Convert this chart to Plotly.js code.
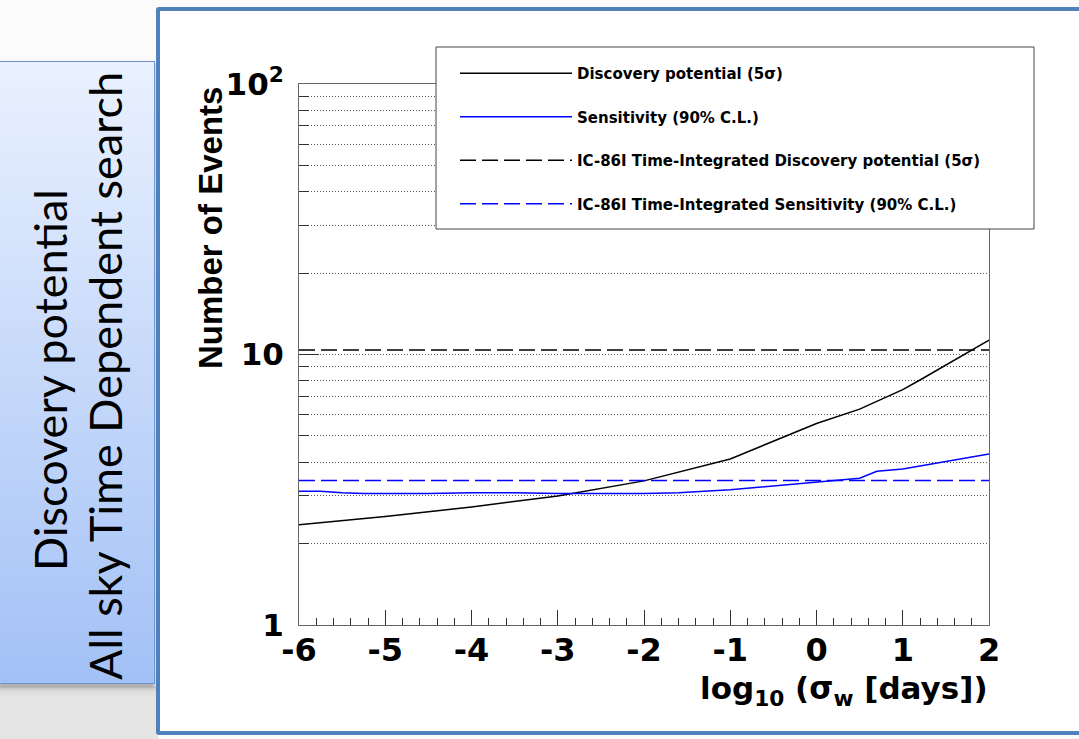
<!DOCTYPE html>
<html>
<head>
<meta charset="utf-8">
<script src="https://cdn.plot.ly/plotly-3.0.1.min.js"></script>
<style>
  html, body { margin:0; padding:0; width:1079px; height:739px; overflow:hidden; background:#fbfbfb; }
  #band { position:absolute; left:0; top:686px; width:158px; height:53px; background:linear-gradient(#d6d6d6, #e4e4e4 20%, #e4e4e4); }
  #box { position:absolute; left:-2px; top:61px; width:155px; height:621px; background:linear-gradient(#eaf1fe, #a3c1f6); border:1.5px solid #7196cf; box-shadow:0 3px 4px rgba(0,0,0,0.35); }
  #panel { position:absolute; left:156px; top:7px; width:1000px; height:720px; background:#ffffff; border:4.5px solid #4f81bd; border-radius:3px; }
  #chart { position:absolute; left:0; top:0; width:1079px; height:739px; }
</style>
</head>
<body>
<div id="band"></div>
<div id="box"></div>
<div id="panel"></div>
<div id="chart"></div>
<script>
// ---- data ----
const seriesNames = [
  "Discovery potential (5σ)",
  "Sensitivity (90% C.L.)",
  "IC-86I Time-Integrated Discovery potential (5σ)",
  "IC-86I Time-Integrated Sensitivity (90% C.L.)"
];
const discX = [-6, -5, -4, -3, -2, -1, 0, 0.5, 1, 1.2, 2];
const discY = [2.35, 2.52, 2.73, 3.0, 3.41, 4.11, 5.56, 6.28, 7.42, 8.05, 11.3];
const sensX = [-6, -5.75, -5.5, -5.25, -4.5, -4, -3.5, -3, -2, -1.6, -1, 0, 0.5, 0.7, 1, 2];
const sensY = [3.12, 3.12, 3.08, 3.06, 3.06, 3.08, 3.08, 3.06, 3.06, 3.08, 3.16, 3.38, 3.49, 3.70, 3.77, 4.29];
const tiRangeX = [-6, 2];
const tiDiscY = [10.38, 10.38];
const tiSensY = [3.42, 3.42];
const xTickVals = [-6, -5, -4, -3, -2, -1, 0, 1, 2];
const xTickText = ["-6", "-5", "-4", "-3", "-2", "-1", "0", "1", "2"];
const yTickVals = [1, 10, 100];
const yTickText = ["1", "10", "10<sup>2</sup>"];
const yMinorVals = [2,3,4,5,6,7,8,9,20,30,40,50,60,70,80,90];
const sideLines = ["Discovery potential", "All sky Time Dependent search"];
const yTitle = "Number of Events";
const xTitle = "log<sub>10</sub> (σ<sub>w</sub> [days])";

// ---- page geometry (pixels) ----
const W = 1079, H = 739;
const L = 299, R = 989, T = 84, B = 625;
const px = v => (v - L) / (R - L);   // page px -> paper x (plot-area relative)
const py = v => (B - v) / (B - T);   // page px -> paper y
const dashStyle = "16px,6px";

const traces = [
  {x: discX, y: discY, name: seriesNames[0], legendgroup: "a", mode: "lines", line: {color: "#000000", width: 1.5}},
  {x: sensX, y: sensY, name: seriesNames[1], legendgroup: "b", mode: "lines", line: {color: "#0000ff", width: 1.5}},
  {x: tiRangeX, y: tiDiscY, name: seriesNames[2], legendgroup: "c", mode: "lines", line: {color: "#000000", width: 1.5, dash: dashStyle}},
  {x: tiRangeX, y: tiSensY, name: seriesNames[3], legendgroup: "d", mode: "lines", line: {color: "#0000ff", width: 1.5, dash: dashStyle}}
];

const xTickFont = {family: "DejaVu Sans", size: 32, color: "#000", weight: "bold"};
const yTickFont = {family: "DejaVu Sans", size: 31, color: "#000", weight: "bold"};

const layout = {
  width: W, height: H,
  margin: {l: L, r: W - R, t: T, b: H - B, pad: 0, autoexpand: false},
  paper_bgcolor: "rgba(0,0,0,0)",
  plot_bgcolor: "#ffffff",
  showlegend: true,
  xaxis: {
    range: [-6, 2], tickmode: "array", tickvals: xTickVals, ticktext: xTickText,
    ticks: "inside", ticklen: 15, tickwidth: 1, tickcolor: "#333",
    showline: true, linecolor: "#666", linewidth: 1, mirror: true,
    showgrid: false, zeroline: false, ticklabelstandoff: -3,
    tickfont: xTickFont,
    minor: {dtick: 0.2, tick0: -6, ticks: "inside", ticklen: 7, tickwidth: 1, tickcolor: "#333", showgrid: false}
  },
  yaxis: {
    type: "log", range: [0, 2],
    tickmode: "array", tickvals: yTickVals, ticktext: yTickText,
    ticks: "inside", ticklen: 20, tickwidth: 1, tickcolor: "#333",
    showline: true, linecolor: "#666", linewidth: 1, mirror: true,
    showgrid: true, gridcolor: "#555", gridwidth: 1, griddash: "1px,2px",
    zeroline: false, ticklabelstandoff: 8,
    tickfont: yTickFont,
    minor: {tickmode: "array", tickvals: yMinorVals, ticks: "inside", ticklen: 10, tickwidth: 1, tickcolor: "#333",
            showgrid: true, gridcolor: "#555", gridwidth: 1, griddash: "1px,2px"}
  },
  legend: {
    x: px(455), y: py(57), xanchor: "left", yanchor: "top",
    bgcolor: "rgba(0,0,0,0)", borderwidth: 0,
    font: {family: "DejaVu Sans", size: 15, color: "#000", weight: "bold"},
    itemwidth: 112, traceorder: "grouped", tracegroupgap: 21
  },
  shapes: [
    {type: "rect", xref: "paper", yref: "paper", x0: px(436), x1: px(1034), y0: py(229), y1: py(47),
     fillcolor: "#ffffff", line: {color: "#444", width: 1}, layer: "above"}
  ],
  annotations: [
    {text: sideLines[0], xref: "paper", yref: "paper", x: px(50), y: py(380), textangle: -90, showarrow: false,
     xanchor: "center", yanchor: "middle", font: {family: "Lato", size: 45, color: "#000"}},
    {text: sideLines[1], xref: "paper", yref: "paper", x: px(105), y: py(376), textangle: -90, showarrow: false,
     xanchor: "center", yanchor: "middle", font: {family: "Lato", size: 45, color: "#000"}},
    {text: yTitle, xref: "paper", yref: "paper", x: px(210), y: py(228), textangle: -90, showarrow: false,
     xanchor: "center", yanchor: "middle", font: {family: "Liberation Sans", size: 33, color: "#000", weight: "bold"}},
    {text: xTitle, xref: "paper", yref: "paper", x: px(990), y: py(690), showarrow: false,
     xanchor: "right", yanchor: "middle", font: {family: "DejaVu Sans", size: 31, color: "#000", weight: "bold"}}
  ]
};

Plotly.newPlot("chart", traces, layout, {displayModeBar: false, staticPlot: true});
</script>
</body>
</html>
